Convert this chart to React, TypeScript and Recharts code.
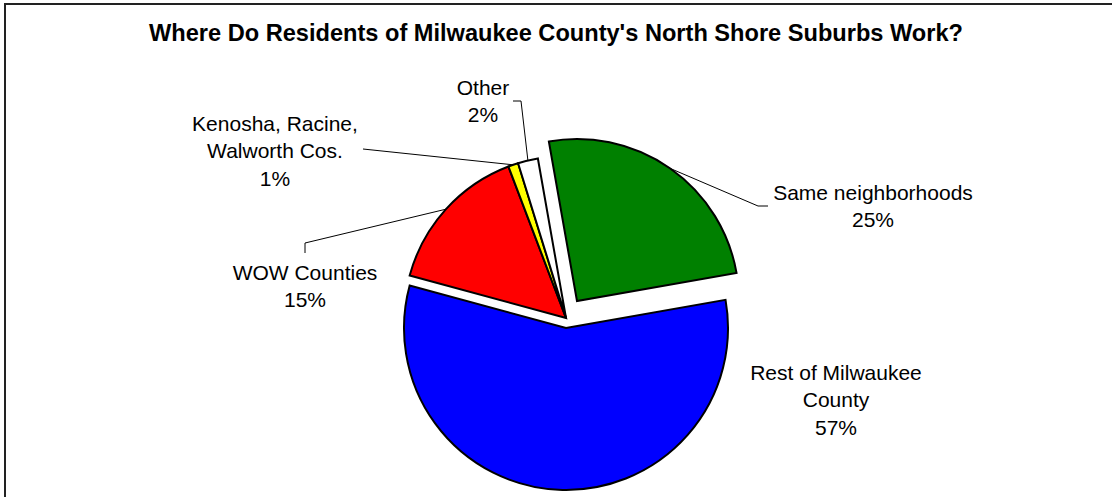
import React from 'react'
import { PieChart, Pie, Cell } from 'recharts'

const names = [
  'Same neighborhoods',
  'Rest of Milwaukee County',
  'WOW Counties',
  'Kenosha, Racine, Walworth Cos.',
  'Other',
]
const shares = [25, 57, 15, 1, 2]
const colors = ['#008000', '#0000ff', '#ff0000', '#ffff00', '#ffffff']
// label text as wrapped in the original
const labelLines = [
  ['Same neighborhoods'],
  ['Rest of Milwaukee', 'County'],
  ['WOW Counties'],
  ['Kenosha, Racine,', 'Walworth Cos.'],
  ['Other'],
]

const data = names.map((name, i) => ({ name, value: shares[i] }))

// exploded pieces: each group is drawn by its own Pie at a shifted centre
const groups = [
  { members: [0], cx: 577, cy: 301 },
  { members: [1], cx: 566, cy: 328 },
  { members: [2, 3, 4], cx: 566, cy: 318 },
]

// hand placed labels (x centre, first line centre) and leader elbows
const labelLayout: Record<number, { x: number; y: number; leader?: number[][] }> = {
  0: { x: 873, y: 192, leader: [[758, 206], [768, 206]] },
  1: { x: 836, y: 372 },
  2: { x: 305, y: 272, leader: [[305, 243], [305, 253]] },
  3: { x: 275, y: 123, leader: [[363, 149]] },
  4: { x: 483, y: 87, leader: [[521, 101], [513, 101]] },
}

const RAD = Math.PI / 180
const LINE_H = 27.5
const FONT = '"Liberation Sans", Arial, sans-serif'

const makeLabel = (members: number[]) => (props: any) => {
  const { cx, cy, midAngle, outerRadius, index, value } = props
  if (!members.includes(index)) return null
  const lay = labelLayout[index]
  const lines = [...labelLines[index], `${value}%`]
  const ex = cx + Math.cos(-midAngle * RAD) * outerRadius
  const ey = cy + Math.sin(-midAngle * RAD) * outerRadius
  const pts = lay.leader ? [[ex, ey], ...lay.leader] : null
  return (
    <g key={`lbl-${index}`}>
      {pts && (
        <polyline
          points={pts.map((p) => p.join(',')).join(' ')}
          fill="none"
          stroke="#000"
          strokeWidth={1}
        />
      )}
      {lines.map((t, j) => (
        <text
          key={j}
          x={lay.x}
          y={lay.y + j * LINE_H}
          textAnchor="middle"
          dominantBaseline="central"
          fill="#000"
          style={{ fontFamily: FONT, fontSize: 21 }}
        >
          {t}
        </text>
      ))}
    </g>
  )
}

export default function App() {
  return (
    <div
      style={{
        position: 'fixed',
        left: 0,
        top: 0,
        width: 1112,
        height: 497,
        background: '#fff',
        overflow: 'hidden',
      }}
    >
      <div
        style={{
          position: 'absolute',
          left: 4,
          top: 3,
          right: 0,
          bottom: 0,
          borderTop: '2px solid #222',
          borderLeft: '2px solid #222',
        }}
      />
      <div
        style={{
          position: 'absolute',
          left: 0,
          width: 1112,
          top: 22,
          lineHeight: '23px',
          textAlign: 'center',
          fontFamily: FONT,
          fontWeight: 'bold',
          fontSize: 23.6,
          color: '#000',
        }}
      >
        Where Do Residents of Milwaukee County's North Shore Suburbs Work?
      </div>
      <div style={{ position: 'absolute', left: 0, top: 0 }}>
        <PieChart width={1112} height={497} margin={{ top: 0, right: 0, bottom: 0, left: 0 }}>
          {groups.map((g, gi) => (
            <Pie
              key={gi}
              data={data}
              dataKey="value"
              nameKey="name"
              cx={g.cx}
              cy={g.cy}
              outerRadius={162}
              startAngle={100}
              endAngle={-260}
              stroke="#000"
              strokeWidth={2}
              isAnimationActive={false}
              labelLine={false}
              label={makeLabel(g.members)}
            >
              {data.map((_, i) => (
                <Cell
                  key={`c-${i}`}
                  fill={g.members.includes(i) ? colors[i] : 'none'}
                  stroke={g.members.includes(i) ? '#000' : 'none'}
                />
              ))}
            </Pie>
          ))}
        </PieChart>
      </div>
    </div>
  )
}
